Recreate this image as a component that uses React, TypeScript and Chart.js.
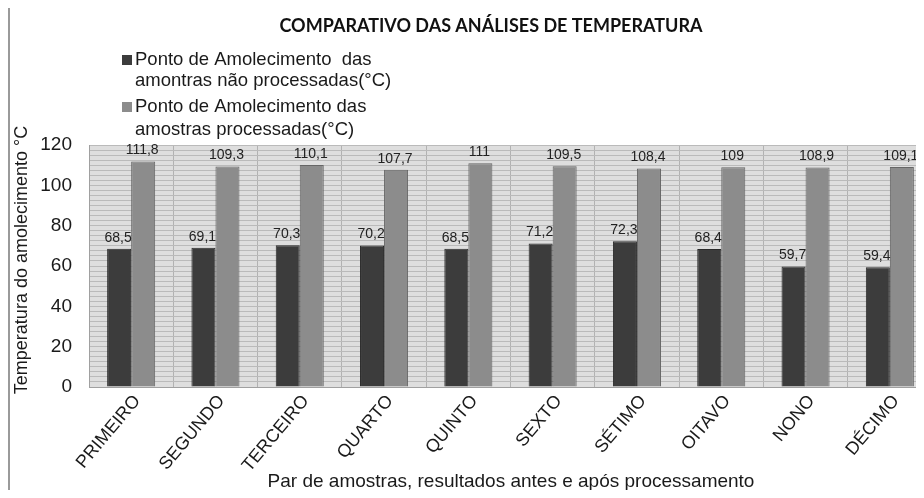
import React, { useEffect, useRef } from 'react';
import { Chart, registerables } from 'chart.js';

Chart.register(...registerables);

const categories = ['PRIMEIRO', 'SEGUNDO', 'TERCEIRO', 'QUARTO', 'QUINTO', 'SEXTO', 'SÉTIMO', 'OITAVO', 'NONO', 'DÉCIMO'];
const naoProcessadas = [68.5, 69.1, 70.3, 70.2, 68.5, 71.2, 72.3, 68.4, 59.7, 59.4];
const processadas = [111.8, 109.3, 110.1, 107.7, 111, 109.5, 108.4, 109, 108.9, 109.1];
const legendLines1 = ['Ponto de Amolecimento  das', 'amontras não processadas(°C)'];
const legendLines2 = ['Ponto de Amolecimento das', 'amostras processadas(°C)'];
const chartTitle = 'COMPARATIVO DAS ANÁLISES DE TEMPERATURA';
const yTitle = 'Temperatura do amolecimento °C';
const xTitle = 'Par de amostras, resultados antes e após processamento';
const yMin = 0;
const yMax = 120;
const yMajor = 20;
const yMinor = 2.5;

const FONT = '"Liberation Sans", Arial, sans-serif';
const DARK = '#3c3c3c';
const LIGHT = '#8c8c8c';

const decorPlugin = {
  id: 'decor',
  beforeDraw(chart: any) {
    const { ctx, chartArea: a } = chart;
    ctx.save();
    ctx.fillStyle = '#dedede';
    ctx.fillRect(a.left, a.top, a.right - a.left, a.bottom - a.top);
    ctx.restore();
  },
  afterDatasetsDraw(chart: any) {
    const { ctx } = chart;
    ctx.save();
    ctx.font = `14px ${FONT}`;
    ctx.fillStyle = '#222';
    ctx.textAlign = 'center';
    ctx.textBaseline = 'bottom';
    chart.data.datasets.forEach((ds: any, i: number) => {
      const meta = chart.getDatasetMeta(i);
      meta.data.forEach((bar: any, j: number) => {
        const v = ds.data[j];
        ctx.fillText(String(v).replace('.', ','), bar.x - 1, bar.y - 4);
      });
    });
    ctx.restore();
  },
  afterDraw(chart: any) {
    const { ctx } = chart;
    ctx.save();
    // title
    ctx.font = `bold 18px Lato, "Open Sans", sans-serif`;
    ctx.fillStyle = '#111';
    ctx.textAlign = 'center';
    ctx.textBaseline = 'middle';
    ctx.fillText(chartTitle, 481, 18);
    // legend
    ctx.font = `18.5px ${FONT}`;
    ctx.textAlign = 'left';
    const items = [
      { lines: legendLines1, color: DARK, y: [52, 73] },
      { lines: legendLines2, color: LIGHT, y: [99, 122] },
    ];
    items.forEach((it) => {
      ctx.fillStyle = it.color;
      ctx.fillRect(112, it.y[0] - 5, 10, 10);
      ctx.fillStyle = '#1a1a1a';
      it.lines.forEach((ln, k) => ctx.fillText(ln, 125, it.y[k]));
    });
    // y title
    ctx.font = `18px ${FONT}`;
    ctx.fillStyle = '#1a1a1a';
    ctx.translate(12, 252);
    ctx.rotate(-Math.PI / 2);
    ctx.textAlign = 'center';
    ctx.fillText(yTitle, 0, 0);
    ctx.restore();
    // x title
    ctx.save();
    ctx.font = `19px ${FONT}`;
    ctx.fillStyle = '#1a1a1a';
    ctx.textAlign = 'center';
    ctx.textBaseline = 'middle';
    ctx.fillText(xTitle, 501, 474);
    ctx.restore();
  },
};

export default function App() {
  const ref = useRef<HTMLCanvasElement>(null);
  useEffect(() => {
    if (!ref.current) return;
    const chart = new Chart(ref.current, {
      type: 'bar',
      data: {
        labels: categories,
        datasets: [
          {
            label: legendLines1.join(' '),
            data: naoProcessadas,
            backgroundColor: DARK,
            borderColor: '#2a2a2a',
            borderWidth: 1,
            categoryPercentage: 0.57,
            barPercentage: 1.0,
          },
          {
            label: legendLines2.join(' '),
            data: processadas,
            backgroundColor: LIGHT,
            borderColor: '#666666',
            borderWidth: 1,
            categoryPercentage: 0.57,
            barPercentage: 1.0,
          },
        ],
      },
      options: {
        responsive: false,
        animation: false,
        devicePixelRatio: 1,
        layout: { padding: { top: 137, left: 0, right: 18, bottom: 0 } },
        plugins: {
          legend: { display: false },
          title: { display: false },
          tooltip: { enabled: false },
        },
        scales: {
          x: {
            grid: { color: '#b2b2b2', drawTicks: false, offset: true },
            border: { color: '#a0a0a0' },
            ticks: {
              color: '#1a1a1a',
              font: { family: FONT, size: 18 },
              minRotation: 50,
              maxRotation: 50,
              padding: 4,
              labelOffset: 6,
              autoSkip: false,
            },
            afterFit(scale: any) {
              scale.height = 103;
              scale.paddingLeft = 0;
              scale.paddingRight = 0;
            },
          },
          y: {
            min: yMin,
            max: yMax,
            grid: { color: '#bababa', drawTicks: false },
            border: { color: '#a0a0a0' },
            ticks: {
              stepSize: yMinor,
              autoSkip: false,
              padding: 17,
              color: '#1a1a1a',
              font: { family: FONT, size: 19 },
              callback: (v: any) => (Number(v) % yMajor === 0 ? String(v) : ''),
            },
            afterFit(scale: any) {
              scale.width = 79;
              scale.paddingTop = 0;
              scale.paddingBottom = 0;
            },
          },
        },
      },
      plugins: [decorPlugin],
    } as any);
    return () => chart.destroy();
  }, []);
  return (
    <div
      style={{
        width: 916,
        height: 482,
        overflow: 'hidden',
        borderLeft: '2px solid #9a9a9a',
        boxSizing: 'border-box',
      }}
    >
      <canvas ref={ref} width={940} height={482} style={{ display: 'block', width: 940, height: 482 }} />
    </div>
  );
}
